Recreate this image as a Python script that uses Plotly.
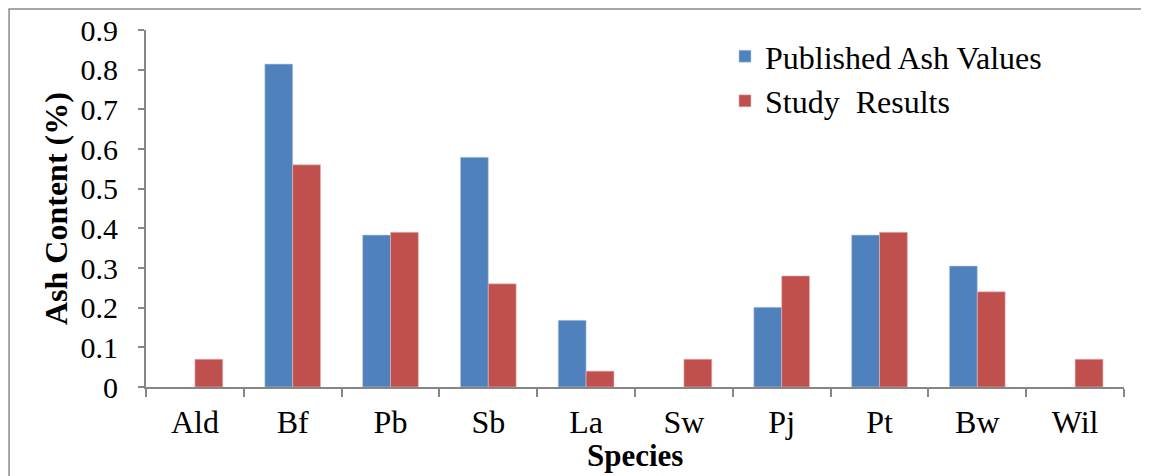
import plotly.graph_objects as go

species = ["Ald", "Bf", "Pb", "Sb", "La", "Sw", "Pj", "Pt", "Bw", "Wil"]
published = [None, 0.814, 0.383, 0.579, 0.168, None, 0.201, 0.383, 0.305, None]
study = [0.07, 0.56, 0.39, 0.26, 0.04, 0.07, 0.28, 0.39, 0.24, 0.07]
y_ticks = [0, 0.1, 0.2, 0.3, 0.4, 0.5, 0.6, 0.7, 0.8, 0.9]
y_labels = ["0", "0.1", "0.2", "0.3", "0.4", "0.5", "0.6", "0.7", "0.8", "0.9"]

FONT = "Liberation Serif, Times New Roman, serif"
AXIS = "#868686"

fig = go.Figure()
fig.add_trace(go.Bar(x=species, y=published, name="Published Ash Values",
                     marker=dict(color="#4F81BD", line=dict(color="#B9CDE5", width=0.6))))
fig.add_trace(go.Bar(x=species, y=study, name="Study  Results",
                     marker=dict(color="#C0504D", line=dict(color="#E6B9B8", width=0.6))))

# page body has an 8px margin, so the figure is sized/offset to compensate
fig.update_layout(
    width=1141, height=468,
    margin=dict(l=138, r=25, t=22, b=89),
    paper_bgcolor="white", plot_bgcolor="white",
    barmode="group", bargap=0.43, bargroupgap=0,
    font=dict(family=FONT, color="black"),
    legend=dict(x=0.592, y=1.003, xanchor="left", yanchor="top",
                font=dict(size=32, family=FONT), bgcolor="rgba(0,0,0,0)",
                itemwidth=30, tracegroupgap=0),
    shapes=[dict(type="rect", xref="paper", yref="paper",
                 x0=-0.1400, x1=1.0235, y0=-0.30, y1=1.0590,
                 line=dict(color="#898989", width=1.5), fillcolor="rgba(0,0,0,0)", layer="below")],
    annotations=[
        dict(text="<b>Ash Content (%)</b>", xref="paper", yref="paper",
             x=-0.092, y=0.4986, xanchor="center", yanchor="middle", textangle=-90,
             showarrow=False, font=dict(size=32, family=FONT, color="black")),
        dict(text="<b>Species</b>", xref="paper", yref="paper",
             x=0.5, y=-0.193, xanchor="center", yanchor="middle",
             showarrow=False, font=dict(size=31, family=FONT, color="black")),
    ],
)

fig.update_xaxes(
    type="category", showline=True, linecolor=AXIS, linewidth=2, automargin=False,
    ticks="outside", tickson="boundaries", ticklen=8, tickcolor=AXIS, tickwidth=2,
    tickfont=dict(size=32, family=FONT), showgrid=False, ticklabelstandoff=6,
)
fig.update_yaxes(
    range=[0, 0.9], tickvals=y_ticks, ticktext=y_labels, automargin=False,
    showline=True, linecolor=AXIS, linewidth=2,
    ticks="outside", ticklen=6, tickcolor=AXIS, tickwidth=2,
    tickfont=dict(size=30, family=FONT), showgrid=False, zeroline=False,
    ticklabelstandoff=14,
)

fig.write_html("out.html")
